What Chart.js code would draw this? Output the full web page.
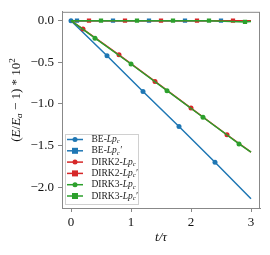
<!DOCTYPE html>
<html>
<head>
<meta charset="utf-8">
<script src="https://cdn.jsdelivr.net/npm/chart.js@4"></script>
<style>
  html,body{margin:0;padding:0;background:#fff;}
  canvas{display:block;}
</style>
</head>
<body>
<canvas id="c" width="270" height="255"></canvas>
<script>
// energy error vs time, six runs
const xTicks = [0, 1, 2, 3];
const yTicks = [0, -0.5, -1.0, -1.5, -2.0];

const tBE   = [0, 0.6, 1.2, 1.8, 2.4, 3.0];
const eBE   = [0, -0.42, -0.85, -1.27, -1.70, -2.14];
const tBEp  = [0, 0.1, 0.7, 1.3, 1.9, 2.5, 3.0];
const eBEp  = [0, 0, 0, 0, 0, 0, -0.005];
const tDK2  = [0, 0.2, 0.8, 1.4, 2.0, 2.6, 3.0];
const eDK2  = [0, -0.10, -0.41, -0.73, -1.05, -1.37, -1.58];
const tDK2p = [0, 0.3, 0.9, 1.5, 2.1, 2.7, 3.0];
const eDK2p = [0, 0, 0, 0, 0, 0, 0];
const tDK3  = [0, 0.4, 1.0, 1.6, 2.2, 2.8, 3.0];
const eDK3  = [0, -0.21, -0.52, -0.84, -1.16, -1.48, -1.58];
const tDK3p = [0, 0.5, 1.1, 1.7, 2.3, 2.9, 3.0];
const eDK3p = [0, 0, 0, 0, 0, -0.015, -0.01];

const BLUE = '#1f77b4', RED = '#d62728', GREEN = '#2ca02c';
const SERIF = '"Liberation Serif", "DejaVu Serif", serif';

// legend labels as rich pieces: [text, italic, sub]
const series = [
  {name:[['BE-',0,0],['Lp',1,0],['c',1,1]],            t:tBE,  e:eBE,  color:BLUE,  shape:'circle', markFirst:true},
  {name:[['BE-',0,0],['Lp',1,0],['c',1,1],['\u2032',1,0]], t:tBEp, e:eBEp, color:BLUE,  shape:'rect', markFirst:false},
  {name:[['DIRK2-',0,0],['Lp',1,0],['c',1,1]],         t:tDK2, e:eDK2, color:RED,   shape:'circle', markFirst:false},
  {name:[['DIRK2-',0,0],['Lp',1,0],['c',1,1],['\u2032',1,0]], t:tDK2p, e:eDK2p, color:RED, shape:'rect', markFirst:false},
  {name:[['DIRK3-',0,0],['Lp',1,0],['c',1,1]],         t:tDK3, e:eDK3, color:GREEN, shape:'circle', markFirst:false},
  {name:[['DIRK3-',0,0],['Lp',1,0],['c',1,1],['\u2032',1,0]], t:tDK3p, e:eDK3p, color:GREEN, shape:'rect', markFirst:false}
];

function radii(n, markFirst, r){
  const a = [];
  for(let i=0;i<n;i++) a.push((i===n-1 || (i===0 && !markFirst)) ? 0 : r);
  return a;
}

const datasets = series.map((s,i)=>({
  data: s.t.map((t,k)=>({x:t, y:s.e[k]})),
  borderColor: s.color, backgroundColor: s.color,
  borderWidth: 1.5, tension: 0,
  pointStyle: s.shape,
  pointRadius: radii(s.t.length, s.markFirst, s.shape==='rect' ? 3 : 2.5),
  pointBorderWidth: 0,
  order: series.length - i
}));

function drawRich(ctx, parts, x, y, size){
  for(const [txt, it, sub] of parts){
    const fs = sub ? size*0.7 : size;
    ctx.font = (it?'italic ':'') + fs + 'px ' + SERIF;
    ctx.fillText(txt, x, y + (sub ? size*0.22 : 0));
    x += ctx.measureText(txt).width;
  }
  return x;
}

const frame = {
  id:'frame',
  afterDraw(chart){
    const {ctx, chartArea:a} = chart;
    ctx.save();
    ctx.strokeStyle = '#888'; ctx.lineWidth = 1;
    ctx.strokeRect(a.left+0.5, a.top+0.5, a.right-a.left-1, a.bottom-a.top);

    // legend box
    const lx = 65.5, ly = 134.5, lw = 73, lh = 70;
    ctx.fillStyle = 'rgba(255,255,255,0.85)';
    ctx.strokeStyle = '#d0d0d0';
    ctx.fillRect(lx, ly, lw, lh); ctx.strokeRect(lx, ly, lw, lh);
    ctx.textBaseline = 'middle'; ctx.textAlign = 'left';
    series.forEach((s,i)=>{
      const y = 139.5 + i*11.3;
      ctx.strokeStyle = s.color; ctx.lineWidth = 1.5;
      ctx.beginPath(); ctx.moveTo(67, y); ctx.lineTo(83, y); ctx.stroke();
      ctx.fillStyle = s.color;
      if(s.shape==='rect'){ ctx.fillRect(72, y-3, 6, 6); }
      else { ctx.beginPath(); ctx.arc(75, y, 2.5, 0, Math.PI*2); ctx.fill(); }
      ctx.fillStyle = '#222';
      drawRich(ctx, s.name, 91.5, y, 9.5);
    });

    // axis titles
    ctx.fillStyle = '#111';
    ctx.textBaseline = 'middle';
    ctx.font = 'italic 13px ' + SERIF;
    ctx.textAlign = 'center';
    ctx.fillText('t/\u03c4', (a.left+a.right)/2, 238);

    ctx.translate(17, 100); ctx.rotate(-Math.PI/2);
    const yParts = [['(',0,0],['E',1,0],['/',0,0],['E',1,0],['a',1,1],[' \u2212 1) * 10',0,0]];
    ctx.textAlign = 'left';
    let w = 0;
    for(const [txt,it,sub] of yParts){ ctx.font=(it?'italic ':'')+(sub?9:13)+'px '+SERIF; w += ctx.measureText(txt).width; }
    ctx.font = '9px ' + SERIF; w += ctx.measureText('2').width;
    const x0 = -w/2;
    const xe = drawRich(ctx, yParts, x0, 0, 13);
    ctx.font = '9px ' + SERIF;
    ctx.fillText('2', xe, -4.5);
    ctx.restore();
  }
};

new Chart(document.getElementById('c'), {
  type: 'line',
  data: { datasets },
  options: {
    responsive: false, animation: false,
    layout: { padding: { top: 10, right: 10, left: 0, bottom: 0 } },
    plugins: { legend: { display: false }, tooltip: { enabled: false } },
    scales: {
      x: {
        type: 'linear', min: -0.15, max: 3.15,
        afterBuildTicks: s => { s.ticks = xTicks.map(v=>({value:v})); },
        afterFit: s => { s.height = 47; },
        ticks: { callback: v => String(v), color: '#111', font: { family: SERIF, size: 13 }, padding: 3, maxRotation: 0 },
        grid: { drawOnChartArea: false, tickLength: 4, tickColor: '#888' },
        border: { color: '#888', width: 1 }
      },
      y: {
        min: -2.25, max: 0.107,
        afterBuildTicks: s => { s.ticks = yTicks.map(v=>({value:v})); },
        afterFit: s => { s.width = 62; },
        ticks: { callback: v => v.toFixed(1).replace('-', '\u2212'), color: '#111', font: { family: SERIF, size: 13 }, padding: 4 },
        grid: { drawOnChartArea: false, tickLength: 4, tickColor: '#888' },
        border: { color: '#888', width: 1 }
      }
    }
  },
  plugins: [frame]
});
</script>
</body>
</html>
